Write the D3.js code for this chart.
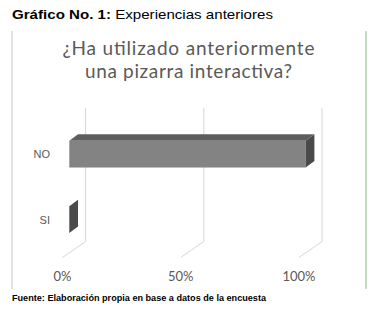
<!DOCTYPE html>
<html><head><meta charset="utf-8">
<script src="https://cdn.jsdelivr.net/npm/d3@7"></script>
<style>
html,body{margin:0;padding:0;background:#fff;}
svg{display:block;}
</style></head>
<body>
<svg id="c" width="374" height="312"></svg>
<script>
const categories = ["NO", "SI"];
const values = [1.0, 0.0];
const tickValues = [0, 0.5, 1];
const tickLabels = ["0%", "50%", "100%"];
const figTitleBold = "Gráfico No. 1:";
const figTitleRest = " Experiencias anteriores";
const chartTitle = ["¿Ha utilizado anteriormente", "una pizarra interactiva?"];
const chartTitleWidths = [252, 207];
const source = "Fuente: Elaboración propia en base a datos de la encuesta";

const svg = d3.select("#c");
const x = d3.scaleLinear().domain([0, 1]).range([69.3, 305.7]);
const y = d3.scaleBand().domain(categories).range([102, 271.7]).paddingInner(0.59).paddingOuter(0.59);

const depth = {dx: 8.7, dy: -6.5};   // bar depth
const wall = {dx: 16.3, top: 108, bottom: 241.5};
const floor = {dx: -6.8, y: 257.5};

// figure title
const ft = svg.append("text").attr("x", 12).attr("y", 18.5)
  .attr("font-family", "Liberation Sans, Arial, sans-serif").attr("font-size", 13.5).attr("fill", "#000")
  .attr("textLength", 261).attr("lengthAdjust", "spacingAndGlyphs");
ft.append("tspan").attr("font-weight", "bold").text(figTitleBold);
ft.append("tspan").text(figTitleRest);

// frame
svg.append("line").attr("x1", 12).attr("x2", 12).attr("y1", 31).attr("y2", 289)
  .attr("stroke", "#cfcfcf").attr("stroke-width", 1.2);
svg.append("line").attr("x1", 366).attr("x2", 366).attr("y1", 31).attr("y2", 289)
  .attr("stroke", "#c4dcc0").attr("stroke-width", 2);

// chart title
svg.selectAll("text.ct").data(chartTitle).join("text").attr("class", "ct")
  .attr("x", (d, i) => 188.5 - chartTitleWidths[i] / 2).attr("y", (d, i) => 54.5 + i * 23)
  .attr("textLength", (d, i) => chartTitleWidths[i]).attr("lengthAdjust", "spacing")
  .attr("font-family", "Lato, 'Open Sans', sans-serif").attr("font-size", 19)
  .attr("fill", "#595959").text(d => d);

// gridlines (back wall + floor)
const g = svg.append("g");
g.selectAll("line.gv").data(tickValues).join("line").attr("class", "gv")
  .attr("x1", d => x(d) + wall.dx).attr("x2", d => x(d) + wall.dx)
  .attr("y1", wall.top).attr("y2", wall.bottom)
  .attr("stroke", "#d6d6d6").attr("stroke-width", 1);
g.selectAll("line.gf").data(tickValues).join("line").attr("class", "gf")
  .attr("x1", d => x(d) + wall.dx).attr("y1", wall.bottom)
  .attr("x2", d => x(d) + floor.dx).attr("y2", floor.y)
  .attr("stroke", "#d6d6d6").attr("stroke-width", 1);

// tick labels
svg.selectAll("text.tl").data(tickValues).join("text").attr("class", "tl")
  .attr("x", d => x(d) + floor.dx).attr("y", 281)
  .attr("text-anchor", "middle")
  .attr("font-family", "Lato, 'Open Sans', sans-serif").attr("font-size", 13)
  .attr("fill", "#595959").text((d, i) => tickLabels[i]);

// category labels
svg.selectAll("text.cl").data(categories).join("text").attr("class", "cl")
  .attr("x", 50).attr("y", d => y(d) + y.bandwidth() / 2 + 4)
  .attr("text-anchor", "end")
  .attr("font-family", "Liberation Sans, Arial, sans-serif").attr("font-size", 11)
  .attr("fill", "#595959").text(d => d);

// bars (3D)
const data = categories.map((c, i) => ({c, v: values[i]})).reverse();
const bars = svg.append("g").selectAll("g").data(data).join("g");
const pts = a => a.map(p => p.join(",")).join(" ");
bars.each(function(d) {
  const gg = d3.select(this);
  const x0 = x(0), x1 = x(d.v), y0 = y(d.c), y1 = y(d.c) + y.bandwidth();
  gg.append("polygon").attr("points", pts([[x0, y0], [x1, y0], [x1 + depth.dx, y0 + depth.dy], [x0 + depth.dx, y0 + depth.dy]]))
    .attr("fill", "#5e5e5e");
  gg.append("rect").attr("x", x0).attr("y", y0).attr("width", x1 - x0).attr("height", y1 - y0)
    .attr("fill", "#838383");
  gg.append("polygon").attr("points", pts([[x1, y0], [x1 + depth.dx, y0 + depth.dy], [x1 + depth.dx, y1 + depth.dy], [x1, y1]]))
    .attr("fill", "#4a4a4a");
});

// source
svg.append("text").attr("x", 12).attr("y", 301)
  .attr("font-family", "Liberation Sans, Arial, sans-serif").attr("font-size", 9)
  .attr("font-weight", "bold").attr("fill", "#000")
  .attr("textLength", 254).attr("lengthAdjust", "spacingAndGlyphs").text(source);
</script>
</body></html>
